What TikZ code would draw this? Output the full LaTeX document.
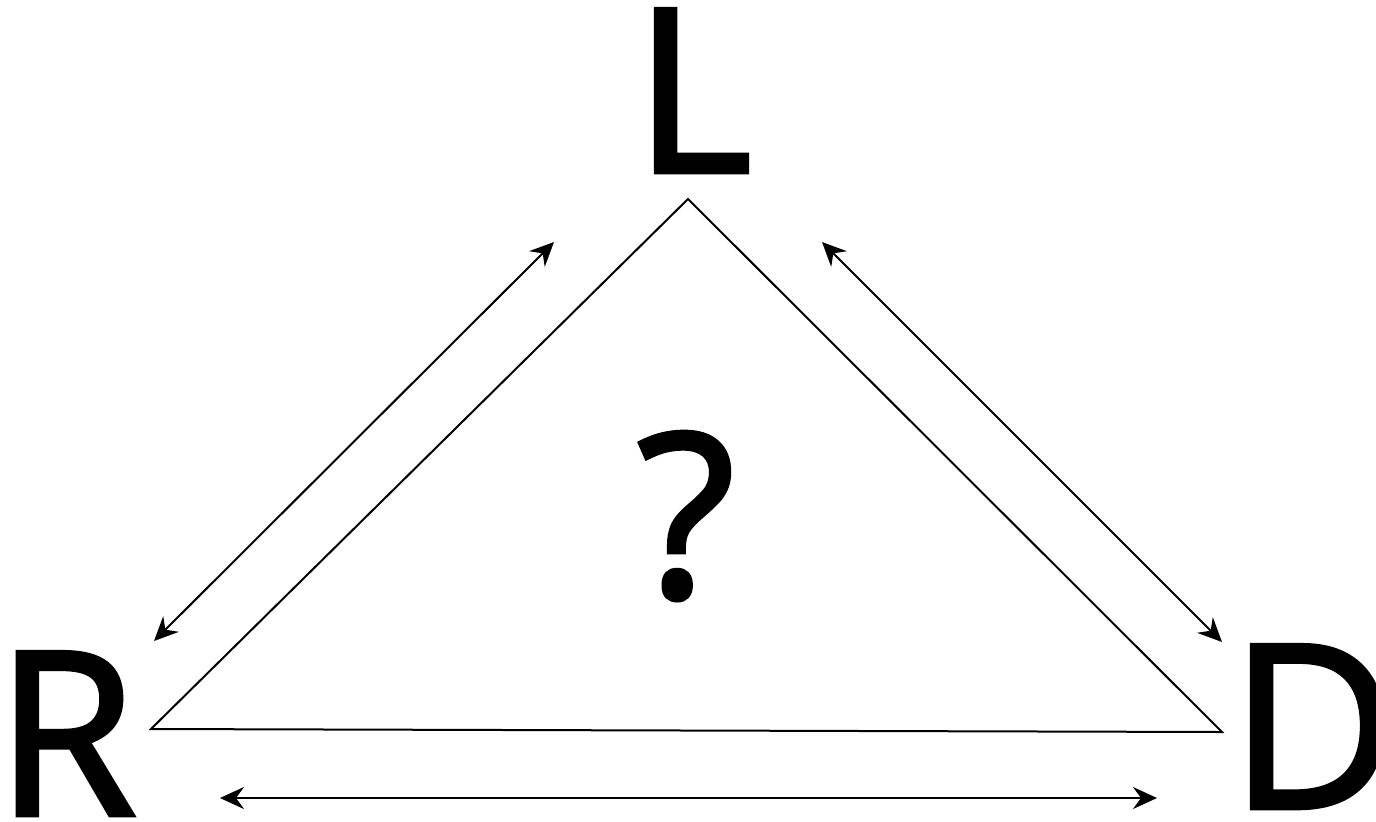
\documentclass[tikz,border=0pt]{standalone}
\usepackage{fontspec}
\setmainfont{Open Sans}
\newfontfamily\lblfont{Open Sans}[FakeBold=2]
\usepackage{tikz}
\usetikzlibrary{positioning,arrows.meta}

\begin{document}
\begin{tikzpicture}[x=0.5pt, y=-0.5pt, font=\lblfont\fontsize{114}{114}\selectfont]
\tikzstyle{letter}=[inner sep=0pt, anchor=base]
\tikzstyle{edge}=[line width=1pt]
\tikzstyle{flow}=[line width=1pt, {Stealth[length=12pt,width=11pt,inset=4pt]}-{Stealth[length=12pt,width=11pt,inset=4pt]}]
\useasboundingbox (0,0) rectangle (1376,821);
% corners of the triangle
\coordinate (top) at (688,199);
\coordinate (lft) at (151,729);
\coordinate (rgt) at (1222,732);
\draw[edge] (top) -- (lft) -- (rgt) -- cycle;
% labels
\node[letter] (l) at (693,172) {L};
\node[letter] (r) at (66,815) {R};
\node[letter] (d) at (1313,808) {D};
\node[letter] (q) at (686,597) {?};
% arrow ends
\coordinate (lr1) at (554,242);
\coordinate (lr2) at (154,641);
\coordinate (ld1) at (822,242);
\coordinate (ld2) at (1222,642);
\coordinate (rd1) at (220,798);
\coordinate (rd2) at (1157,798);
\draw[flow] (lr1) -- (lr2);
\draw[flow] (ld1) -- (ld2);
\draw[flow] (rd1) -- (rd2);
\end{tikzpicture}
\end{document}
